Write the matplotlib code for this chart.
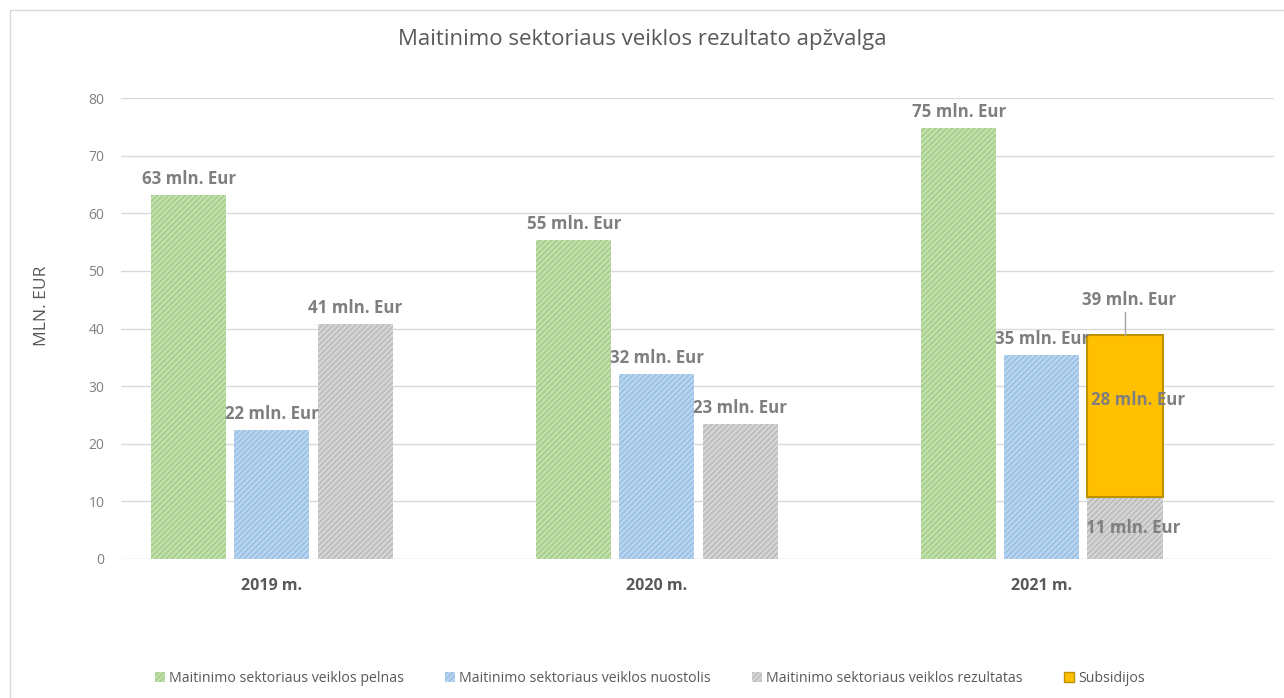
import numpy as np
import matplotlib
matplotlib.use('Agg')
from matplotlib import pyplot as plt
from matplotlib.patches import Rectangle, Patch

years = ['2019 m.', '2020 m.', '2021 m.']
pelnas = [63.2, 55.4, 74.8]
nuostolis = [22.4, 32.1, 35.4]
rezultatas = [40.8, 23.4, 10.8]
subsidijos = [0, 0, 28.1]

series_names = ['Maitinimo sektoriaus veiklos pelnas',
                'Maitinimo sektoriaus veiklos nuostolis',
                'Maitinimo sektoriaus veiklos rezultatas',
                'Subsidijos']

plt.rcParams['font.family'] = ['Open Sans', 'DejaVu Sans']
plt.rcParams['hatch.linewidth'] = 1.2

txt = '#7f7f7f'
fig = plt.figure(figsize=(12.84, 6.98), dpi=100)
fig.patches.append(Rectangle((10/1284, -0.1), 1.2, 1 - 10/698 + 0.1, transform=fig.transFigure,
                             fill=False, edgecolor='#d9d9d9', linewidth=1))
ax = fig.add_axes([121/1284, 1 - 559/698, (1274 - 121)/1284, (559 - 98)/698])

x = np.arange(len(years))
w = 0.195
off = 0.216

b1 = ax.bar(x - off, pelnas, w, color='#a9d18e', edgecolor='#c8e3b6', hatch='//////', linewidth=0)
b2 = ax.bar(x, nuostolis, w, color='#9dc3e6', edgecolor='#c0d9f0', hatch='//////', linewidth=0)
b3 = ax.bar(x + off, rezultatas, w, color='#bfbfbf', edgecolor='#dadada', hatch='//////', linewidth=0)
sub = np.array(subsidijos)
b4 = ax.bar(x[2] + off, sub[2], w, bottom=rezultatas[2], color='#ffc000', edgecolor='#bf9000', linewidth=1.5)

fs = 12.2
lab = dict(ha='center', va='bottom', fontsize=fs, fontweight='bold', color=txt)
for i in range(3):
    ax.text(x[i] - off, pelnas[i] + 1.2, f'{pelnas[i]:.0f} mln. Eur', **lab)
    ax.text(x[i], nuostolis[i] + 1.2, f'{nuostolis[i]:.0f} mln. Eur', **lab)
for i in range(2):
    ax.text(x[i] + off, rezultatas[i] + 1.2, f'{rezultatas[i]:.0f} mln. Eur', **lab)

# 2021: rezultatas label inside, subsidijos label in the middle, total above
ax.text(x[2] + off + 0.02, rezultatas[2] / 2, f'{rezultatas[2]:.0f} mln. Eur',
        ha='center', va='center', fontsize=fs, fontweight='bold', color=txt)
ax.text(x[2] + off + 0.035, rezultatas[2] + sub[2] * 0.6, f'{sub[2]:.0f} mln. Eur',
        ha='center', va='center', fontsize=fs, fontweight='bold', color=txt)
total = rezultatas[2] + sub[2]
ax.plot([x[2] + off, x[2] + off], [total, total + 4], color='#a6a6a6', linewidth=1)
ax.text(x[2] + off + 0.01, total + 4.4, f'{total:.0f} mln. Eur', **lab)

ax.set_xlim(-0.392, 2.603)
ax.set_ylim(0, 80)
ax.set_yticks(np.arange(0, 81, 10))
ax.set_xticks(x)
ax.set_xticklabels(years, fontsize=11.5, fontweight='bold', color='#595959')
ax.tick_params(axis='y', labelsize=10, labelcolor='#7f7f7f', length=0, pad=12)
ax.tick_params(axis='x', length=0, pad=14)
ax.grid(axis='y', color='#d9d9d9', linewidth=1)
ax.set_axisbelow(True)
for s in ax.spines.values():
    s.set_visible(False)
ax.set_ylabel('MLN. EUR', fontsize=12.5, color='#595959')
ax.yaxis.set_label_coords(-0.062, 0.55)

fig.text(0.5, 1 - 40/698, 'Maitinimo sektoriaus veiklos rezultato apžvalga',
         ha='center', va='center', fontsize=16, color='#595959')

handles = [Patch(facecolor='#a9d18e', edgecolor='#c8e3b6', hatch='//////', linewidth=0),
           Patch(facecolor='#9dc3e6', edgecolor='#c0d9f0', hatch='//////', linewidth=0),
           Patch(facecolor='#bfbfbf', edgecolor='#dadada', hatch='//////', linewidth=0),
           Patch(facecolor='#ffc000', edgecolor='#bf9000', linewidth=1)]
fig.legend(handles, series_names, loc='center', bbox_to_anchor=(650/1284, 1 - 678/698), ncol=4,
           frameon=False, fontsize=10.2, labelcolor='#595959', handlelength=0.7, handleheight=0.7,
           handletextpad=0.3, columnspacing=2.9)

fig.savefig('out.png', dpi=100)
